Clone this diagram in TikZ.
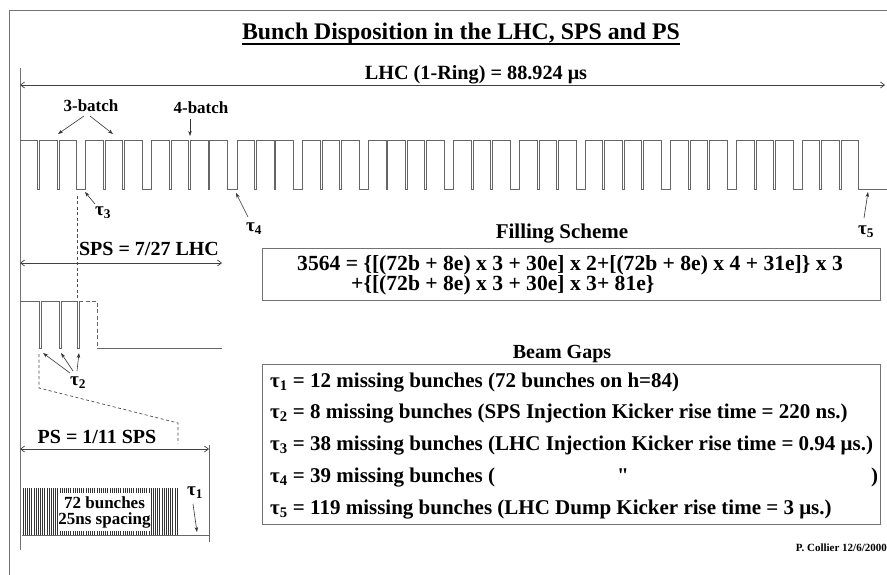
\documentclass[tikz,border=0pt]{standalone}
\usepackage{fontspec}
\setmainfont{Liberation Serif}[Ligatures=TeXOff]
\usetikzlibrary{arrows.meta}
\tikzset{
  frameline/.style={draw=black!55, line width=0.9pt},
  wave/.style={draw=black!60, line width=0.9pt},
  wavedash/.style={draw=black!60, line width=0.9pt, dash pattern=on 4pt off 2.5pt},
  dashline/.style={draw=black!70, line width=0.7pt, dash pattern=on 3pt off 2.5pt},
  dim/.style={draw=black!75, line width=0.7pt, {Straight Barb[length=4pt,width=6pt]}-{Straight Barb[length=4pt,width=6pt]}},
  ptr/.style={draw=black!80, line width=0.6pt, -{Stealth[length=5pt,width=3.5pt]}},
  bar/.style={draw=black!80, line width=0.55pt},
  boxline/.style={draw=black!55, line width=0.9pt, inner sep=0pt},
  titlef/.style={font=\bfseries\fontsize{23.8}{26}\selectfont, inner sep=0pt},
  lblL/.style={font=\bfseries\fontsize{20.2}{22}\selectfont, inner sep=0pt},
  lblM/.style={font=\bfseries\fontsize{20}{22}\selectfont, inner sep=0pt},
  lblF/.style={font=\bfseries\fontsize{21}{23}\selectfont, inner sep=0pt},
  lblS/.style={font=\bfseries\fontsize{17}{19}\selectfont, inner sep=0pt},
  tauf/.style={font=\bfseries\fontsize{19}{21}\selectfont, inner sep=0pt},
  fstxt/.style={font=\bfseries\fontsize{21.6}{24}\selectfont, inner sep=0pt, anchor=base west},
  boxtxt/.style={font=\bfseries\fontsize{21}{24}\selectfont, inner sep=0pt, anchor=base west},
  smallf/.style={font=\bfseries\fontsize{11}{12}\selectfont, inner sep=0pt},
}
\begin{document}
\begin{tikzpicture}[x=1pt,y=-1pt]
\useasboundingbox (0,0) rectangle (887,575);
\fill[white] (0,0) rectangle (887,575);
% frame
\draw[frameline] (887,10) -- (9,10) -- (9,575);
\draw[frameline] (20,68) -- (20,550);
% title
\node[titlef, anchor=base] (title) at (461,40) {Bunch Disposition in the LHC, SPS and PS};
\draw[line width=1.2pt] ([yshift=-4pt]title.base west) -- ([yshift=-4pt]title.base east);
% LHC dimension
\coordinate (lhcL) at (20,85);
\coordinate (lhcR) at (885,85);
\draw[dim] (lhcL) -- (lhcR);
\node[lblL, anchor=base] (lhc) at (476,80) {LHC (1-Ring) = 88.924 μs};
% batch labels
\node[lblS, anchor=base] (b3) at (91,112) {3-batch};
\node[lblS, anchor=base] (b4) at (201,114) {4-batch};
\coordinate (b3t1) at (84,116); \coordinate (b3h1) at (58,134);
\coordinate (b3t2) at (90,116); \coordinate (b3h2) at (113,134);
\coordinate (b4t) at (190,119); \coordinate (b4h) at (190,136);
\draw[ptr] (b3t1) -- (b3h1);
\draw[ptr] (b3t2) -- (b3h2);
\draw[ptr] (b4t) -- (b4h);
% LHC pulse train (to scale: 3564 bunches)
\begin{scope}[shift={(20,140)}, x=0.243493pt]
\draw[wave] (0,0) \foreach \g in {8,8,38,8,8,38,8,8,8,39,
                                  8,8,38,8,8,38,8,8,8,39,
                                  8,8,38,8,8,38,8,8,8,39,
                                  8,8,38,8,8,38,8,8}
  { -- ++(72,0) -- ++(0,49) -- ++(\g,0) -- ++(0,-49) }
  -- ++(72,0) -- ++(0,49) -- ++(119,0);
\end{scope}
% tau labels on LHC
\node[tauf] (t3) at (103,213) {τ\textsubscript{3}};
\coordinate (t3t) at (95,204); \coordinate (t3h) at (85,192);
\draw[ptr] (t3t) -- (t3h);
\node[tauf] (t4) at (254,229) {τ\textsubscript{4}};
\coordinate (t4t) at (248,217); \coordinate (t4h) at (236,193);
\draw[ptr] (t4t) -- (t4h);
\node[tauf] (t5) at (866,232) {τ\textsubscript{5}};
\coordinate (t5t) at (864,218); \coordinate (t5h) at (868,192);
\draw[ptr] (t5t) -- (t5h);
% dashed projection from LHC to SPS
\coordinate (d1a) at (77,196); \coordinate (d1b) at (77,301);
\draw[dashline] (d1a) -- (d1b);
% SPS
\node[lblM, anchor=base] (sps) at (149,255) {SPS = 7/27 LHC};
\coordinate (spsL) at (20,263); \coordinate (spsR) at (222,263);
\draw[dim] (spsL) -- (spsR);
\draw[wave] (20,301) -- (39,301) -- (39,348) -- (41,348) -- (41,301) -- (59,301) -- (59,348) -- (61,348) -- (61,301)
  -- (77,301) -- (77,348) -- (79,348) -- (79,301);
\draw[wavedash] (79,301) -- (97,301) -- (97,348);
\draw[wave] (97,348) -- (222,348);
\node[tauf] (t2) at (78,383) {τ\textsubscript{2}};
\coordinate (t2a) at (70,373); \coordinate (t2ah) at (43,353);
\coordinate (t2b) at (73,371); \coordinate (t2bh) at (61,353);
\coordinate (t2c) at (77,371); \coordinate (t2ch) at (79,353);
\draw[ptr] (t2a) -- (t2ah);
\draw[ptr] (t2b) -- (t2bh);
\draw[ptr] (t2c) -- (t2ch);
% dashed projection from SPS to PS
\coordinate (z1) at (39,354); \coordinate (z2) at (39,388);
\coordinate (z3) at (178,423); \coordinate (z4) at (178,444);
\draw[dashline] (z1) -- (z2) -- (z3) -- (z4);
% PS
\node[lblM, anchor=base] (ps) at (97,443) {PS = 1/11 SPS};
\coordinate (psL) at (20,449); \coordinate (psR) at (209,449);
\draw[dim] (psL) -- (psR);
\draw[wave] (209,445) -- (209,542);
\draw[wave] (22,535) -- (209,535);
\foreach \i in {0,...,71} { \draw[bar] ({23+\i*2.17},488) -- ({23+\i*2.17},535); }
\node[fill=white, inner sep=0pt, minimum width=93pt, minimum height=38pt, align=center,
      font=\bfseries\fontsize{17}{16}\selectfont] (bunches) at (104.5,512) {72 bunches\\25ns spacing};
\node[tauf] (t1) at (195,493) {τ\textsubscript{1}};
\coordinate (t1t) at (193,504); \coordinate (t1h) at (197,532);
\draw[ptr] (t1t) -- (t1h);
% Filling scheme
\node[lblF, anchor=base] (fs) at (562,239) {Filling Scheme};
\node[boxline, minimum width=618pt, minimum height=52pt, anchor=north west] (fsbox) at (262,248) {};
\node[fstxt] (fs1) at (297,270) {3564 = \{[(72b + 8e) x 3 + 30e] x 2+[(72b + 8e) x 4 + 31e]\} x 3};
\node[fstxt] (fs2) at (351,290) {+\{[(72b + 8e) x 3 + 30e] x 3+ 81e\}};
% Beam gaps
\node[lblM, anchor=base] (bg) at (562,358) {Beam Gaps};
\node[boxline, minimum width=618pt, minimum height=160pt, anchor=north west] (bgbox) at (262,364) {};
\node[boxtxt] (g1) at (270,387) {τ\textsubscript{1} = 12 missing bunches (72 bunches on h=84)};
\node[boxtxt] (g2) at (270,418) {τ\textsubscript{2} = 8 missing bunches (SPS Injection Kicker rise time = 220 ns.)};
\node[boxtxt] (g3) at (270,450) {τ\textsubscript{3} = 38 missing bunches (LHC Injection Kicker rise time = 0.94 μs.)};
\node[boxtxt] (g4) at (270,482) {\makebox[347pt][l]{τ\textsubscript{4} = 39 missing bunches (}\makebox[254pt][l]{"})};
\node[boxtxt] (g5) at (270,514) {τ\textsubscript{5} = 119 missing bunches (LHC Dump Kicker rise time = 3 μs.)};
\node[smallf, anchor=base east] (auth) at (887,551) {P. Collier 12/6/2000};
\end{tikzpicture}
\end{document}
